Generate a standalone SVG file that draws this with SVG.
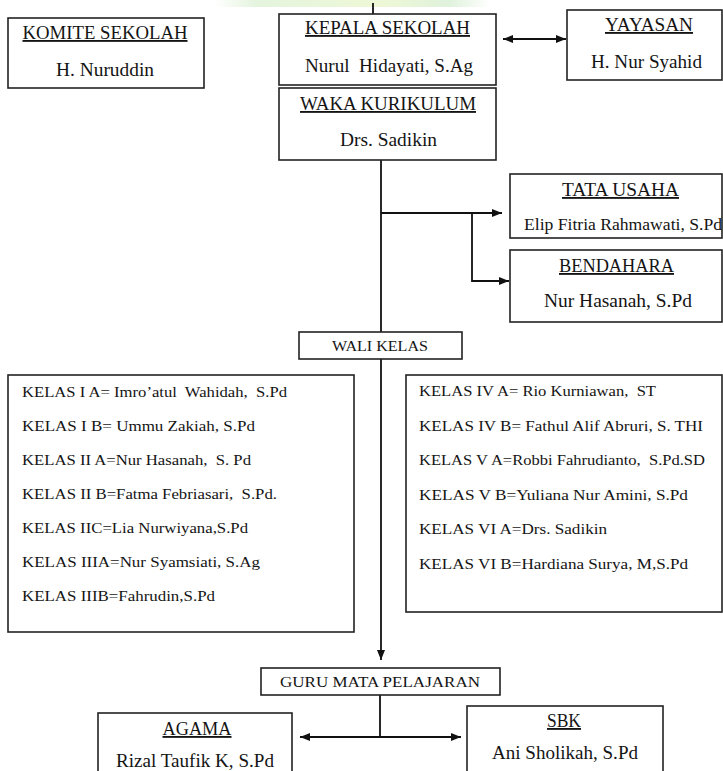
<svg xmlns="http://www.w3.org/2000/svg" width="723" height="771" viewBox="0 0 723 771">
<style>
  .box { fill: #fff; stroke: #222; stroke-width: 1.6; }
  text { font-family: "Liberation Serif", "Times New Roman", serif; fill: #141414; white-space: pre; }
  .title { font-size: 18.5px; text-anchor: middle; text-decoration: underline; }
  .name { font-size: 19px; text-anchor: middle; }
  .small { font-size: 15px; text-anchor: middle; }
  .item { font-size: 15px; }
  .conn { fill: none; stroke: #111; stroke-width: 1.8; }
</style>
<defs>
  <marker id="arr" markerUnits="userSpaceOnUse" markerWidth="10" markerHeight="8" refX="10" refY="4" orient="auto-start-reverse">
    <path d="M0,0 L10,4 L0,8 Z" fill="#111"/>
  </marker>
  <linearGradient id="glow" x1="0" y1="0" x2="1" y2="0">
    <stop offset="0" stop-color="#ffffff"/>
    <stop offset="0.15" stop-color="#e4f4de"/>
    <stop offset="0.6" stop-color="#eef8d6"/>
    <stop offset="0.85" stop-color="#dff2dc"/>
    <stop offset="1" stop-color="#ffffff"/>
  </linearGradient>
</defs>
<rect x="0" y="0" width="723" height="771" fill="#fff"/>
<rect x="215" y="0" width="275" height="7" fill="url(#glow)"/>

<g id="connectors">
  <line class="conn" x1="373" y1="3" x2="373" y2="14"/>
  <line class="conn" x1="503" y1="39" x2="566" y2="39" marker-start="url(#arr)" marker-end="url(#arr)"/>
  <line class="conn" x1="381" y1="160" x2="381" y2="332"/>
  <line class="conn" x1="381" y1="213" x2="502" y2="213" marker-end="url(#arr)"/>
  <polyline class="conn" points="472,213 472,281 509,281" marker-end="url(#arr)"/>
  <line class="conn" x1="381" y1="359" x2="381" y2="660" marker-end="url(#arr)"/>
  <line class="conn" x1="380" y1="695" x2="380" y2="737"/>
  <line class="conn" x1="300" y1="737" x2="461" y2="737" marker-start="url(#arr)" marker-end="url(#arr)"/>
</g>

<g id="komite">
  <rect class="box" x="8" y="18" width="196" height="70"/>
  <text class="title" x="105" y="39" textLength="165" lengthAdjust="spacingAndGlyphs">KOMITE SEKOLAH</text>
  <text class="name" x="105" y="76" textLength="98" lengthAdjust="spacingAndGlyphs">H. Nuruddin</text>
</g>

<g id="kepala">
  <rect class="box" x="279" y="14" width="217" height="71"/>
  <text class="title" x="387.5" y="34" textLength="165" lengthAdjust="spacingAndGlyphs">KEPALA SEKOLAH</text>
  <text class="name" x="389" y="72" textLength="168" lengthAdjust="spacingAndGlyphs">Nurul  Hidayati, S.Ag</text>
</g>

<g id="yayasan">
  <rect class="box" x="567" y="10" width="155" height="70"/>
  <text class="title" x="649" y="31" textLength="88" lengthAdjust="spacingAndGlyphs">YAYASAN</text>
  <text class="name" x="646.5" y="68" textLength="111" lengthAdjust="spacingAndGlyphs">H. Nur Syahid</text>
</g>

<g id="waka">
  <rect class="box" x="279" y="88" width="217" height="72"/>
  <text class="title" x="388" y="110" textLength="176" lengthAdjust="spacingAndGlyphs">WAKA KURIKULUM</text>
  <text class="name" x="388.5" y="146" textLength="97" lengthAdjust="spacingAndGlyphs">Drs. Sadikin</text>
</g>

<g id="tata-usaha">
  <rect class="box" x="510" y="174" width="212" height="64"/>
  <text class="title" x="620.5" y="196" textLength="117" lengthAdjust="spacingAndGlyphs">TATA USAHA</text>
  <text class="name" x="623" y="230" style="font-size:16px" textLength="198" lengthAdjust="spacingAndGlyphs">Elip Fitria Rahmawati, S.Pd</text>
</g>

<g id="bendahara">
  <rect class="box" x="510" y="250" width="212" height="72"/>
  <text class="title" x="616.5" y="272" textLength="115" lengthAdjust="spacingAndGlyphs">BENDAHARA</text>
  <text class="name" x="618" y="307" textLength="148" lengthAdjust="spacingAndGlyphs">Nur Hasanah, S.Pd</text>
</g>

<g id="wali-kelas">
  <rect class="box" x="299" y="332" width="163" height="27"/>
  <text class="small" x="380" y="351" textLength="96" lengthAdjust="spacingAndGlyphs">WALI KELAS</text>
</g>

<g id="kelas-kiri">
  <rect class="box" x="8" y="375" width="346" height="257"/>
  <text class="item" x="22" y="397" textLength="265" lengthAdjust="spacingAndGlyphs">KELAS I A= Imro’atul  Wahidah,  S.Pd</text>
  <text class="item" x="22" y="431" textLength="233" lengthAdjust="spacingAndGlyphs">KELAS I B= Ummu Zakiah, S.Pd</text>
  <text class="item" x="22" y="465" textLength="229" lengthAdjust="spacingAndGlyphs">KELAS II A=Nur Hasanah,  S. Pd</text>
  <text class="item" x="22" y="499" textLength="255" lengthAdjust="spacingAndGlyphs">KELAS II B=Fatma Febriasari,  S.Pd.</text>
  <text class="item" x="22" y="533" textLength="226" lengthAdjust="spacingAndGlyphs">KELAS IIC=Lia Nurwiyana,S.Pd</text>
  <text class="item" x="22" y="567" textLength="238" lengthAdjust="spacingAndGlyphs">KELAS IIIA=Nur Syamsiati, S.Ag</text>
  <text class="item" x="22" y="601" textLength="193" lengthAdjust="spacingAndGlyphs">KELAS IIIB=Fahrudin,S.Pd</text>
</g>

<g id="kelas-kanan">
  <rect class="box" x="406" y="375" width="316" height="237"/>
  <text class="item" x="419" y="396" textLength="237" lengthAdjust="spacingAndGlyphs">KELAS IV A= Rio Kurniawan,  ST</text>
  <text class="item" x="419" y="430.6" textLength="284" lengthAdjust="spacingAndGlyphs">KELAS IV B= Fathul Alif Abruri, S. THI</text>
  <text class="item" x="419" y="465.2" textLength="286" lengthAdjust="spacingAndGlyphs">KELAS V A=Robbi Fahrudianto,  S.Pd.SD</text>
  <text class="item" x="419" y="499.8" textLength="269" lengthAdjust="spacingAndGlyphs">KELAS V B=Yuliana Nur Amini, S.Pd</text>
  <text class="item" x="419" y="534.4" textLength="188" lengthAdjust="spacingAndGlyphs">KELAS VI A=Drs. Sadikin</text>
  <text class="item" x="419" y="569" textLength="269" lengthAdjust="spacingAndGlyphs">KELAS VI B=Hardiana Surya, M,S.Pd</text>
</g>

<g id="guru-mapel">
  <rect class="box" x="261" y="668" width="239" height="27"/>
  <text class="small" x="380" y="687" textLength="200" lengthAdjust="spacingAndGlyphs">GURU MATA PELAJARAN</text>
</g>

<g id="agama">
  <rect class="box" x="98" y="713" width="194" height="70"/>
  <text class="title" x="197" y="735" textLength="69" lengthAdjust="spacingAndGlyphs">AGAMA</text>
  <text class="name" x="195" y="767" textLength="158" lengthAdjust="spacingAndGlyphs">Rizal Taufik K, S.Pd</text>
</g>

<g id="sbk">
  <rect class="box" x="467" y="706" width="196" height="70"/>
  <text class="title" x="564" y="727" textLength="34" lengthAdjust="spacingAndGlyphs">SBK</text>
  <text class="name" x="565" y="759" textLength="146" lengthAdjust="spacingAndGlyphs">Ani Sholikah, S.Pd</text>
</g>
</svg>
